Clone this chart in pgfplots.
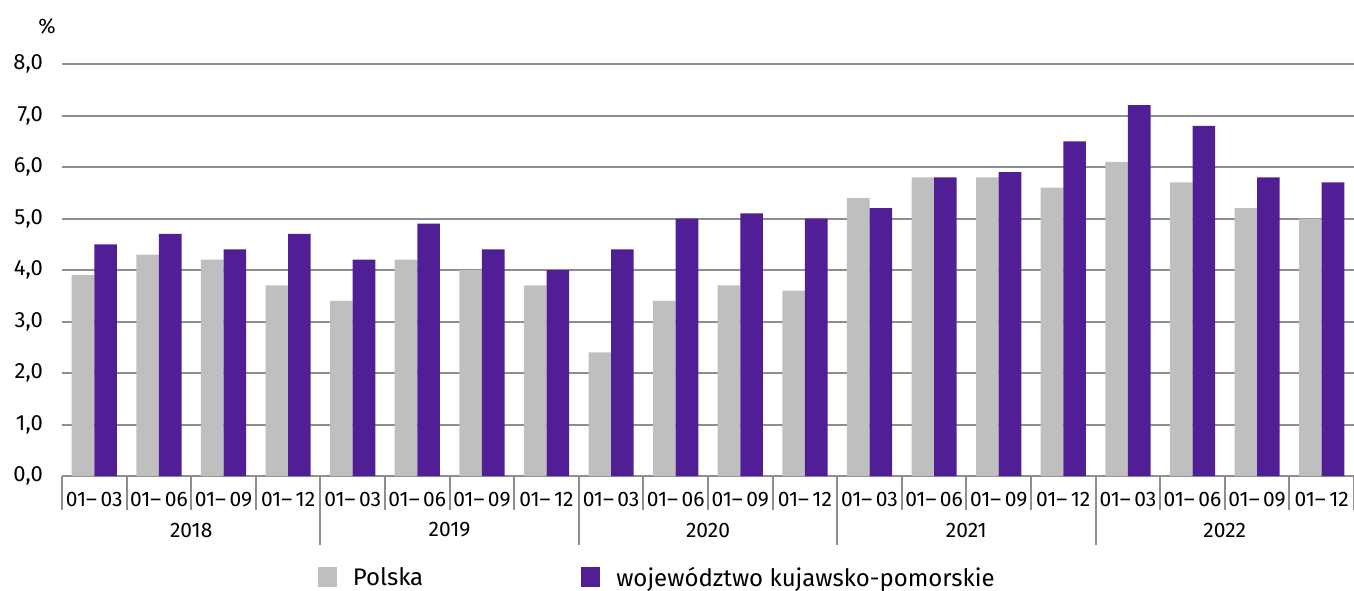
\documentclass[border=0pt]{standalone}
\usepackage{fontspec}
\setmainfont{Fira Sans}
\usepackage{pgfplots}
\pgfplotsset{compat=1.18}
\definecolor{pl}{RGB}{191,191,191}
\definecolor{kp}{RGB}{80,31,150}
\definecolor{gr}{RGB}{142,142,142}
\newcommand{\q}[1]{01–\,#1}
\begin{document}
\begin{tikzpicture}
\begin{axis}[
  at={(0pt,0pt)}, anchor=south west,
  scale only axis, width=1292pt, height=412pt,
  xmin=0, xmax=20, ymin=0, ymax=8,
  clip=false,
  ybar=0pt, bar width=22.6pt,
  axis line style={draw=none},
  ymajorgrids, grid style={gr, line width=2pt},
  ytick={0,1,...,8},
  ytick style={draw=none},
  xtick style={draw=none},
  xtick={0.5,1.5,...,19.5},
  xticklabels={\q{03},\q{06},\q{09},\q{12},\q{03},\q{06},\q{09},\q{12},\q{03},\q{06},\q{09},\q{12},\q{03},\q{06},\q{09},\q{12},\q{03},\q{06},\q{09},\q{12}},
  /pgf/number format/assume math mode=true,
  yticklabel style={/pgf/number format/fixed, /pgf/number format/fixed zerofill, /pgf/number format/precision=1, /pgf/number format/use comma,
    font=\fontsize{22}{26}\selectfont, inner sep=0pt, anchor=east, xshift=-19pt},
  xticklabel style={font=\fontsize{21}{25}\selectfont, inner sep=0pt, anchor=north, yshift=-12pt},
  legend style={at={(axis description cs:0.198,-0.2767)}, anchor=south west, draw=none, inner sep=0pt, outer sep=0pt,
    font=\fontsize{24}{28}\selectfont, legend columns=2,
    /tikz/every even column/.append style={column sep=156pt}},
  legend cell align=left,
  legend image code/.code={\fill[#1] (0pt,-9pt) rectangle (19pt,11pt); \path (33pt,0pt);},
]
\addplot[fill=pl, draw=none] coordinates {(0.5,3.9)(1.5,4.3)(2.5,4.2)(3.5,3.7)(4.5,3.4)(5.5,4.2)(6.5,4.0)(7.5,3.7)(8.5,2.4)(9.5,3.4)(10.5,3.7)(11.5,3.6)(12.5,5.4)(13.5,5.8)(14.5,5.8)(15.5,5.6)(16.5,6.1)(17.5,5.7)(18.5,5.2)(19.5,5.0)};
\addlegendentry{Polska}
\addplot[fill=kp, draw=none] coordinates {(0.5,4.5)(1.5,4.7)(2.5,4.4)(3.5,4.7)(4.5,4.2)(5.5,4.9)(6.5,4.4)(7.5,4.0)(8.5,4.4)(9.5,5.0)(10.5,5.1)(11.5,5.0)(12.5,5.2)(13.5,5.8)(14.5,5.9)(15.5,6.5)(16.5,7.2)(17.5,6.8)(18.5,5.8)(19.5,5.7)};
\addlegendentry{województwo kujawsko-pomorskie}
\pgfplotsinvokeforeach{0,1,2,3,5,6,7,9,10,11,13,14,15,17,18,19,20}{\draw[gr, line width=2pt] (axis cs:#1,0) -- ++(0pt,-34pt);}
\pgfplotsinvokeforeach{4,8,12,16}{\draw[gr, line width=2pt] (axis cs:#1,0) -- ++(0pt,-69pt);}
\node[font=\fontsize{21}{25}\selectfont, yshift=-54pt] at (axis cs:2,0) {2018};
\node[font=\fontsize{21}{25}\selectfont, yshift=-54pt] at (axis cs:6,0) {2019};
\node[font=\fontsize{21}{25}\selectfont, yshift=-54pt] at (axis cs:10,0) {2020};
\node[font=\fontsize{21}{25}\selectfont, yshift=-54pt] at (axis cs:14,0) {2021};
\node[font=\fontsize{21}{25}\selectfont, yshift=-54pt] at (axis cs:18,0) {2022};
\node[font=\fontsize{21}{25}\selectfont, xshift=-15pt, yshift=38pt] at (axis description cs:0,1) {\%};
\end{axis}
\pgfresetboundingbox
\path (-62pt,-114pt) rectangle (1292pt,476pt);
\end{tikzpicture}
\end{document}
